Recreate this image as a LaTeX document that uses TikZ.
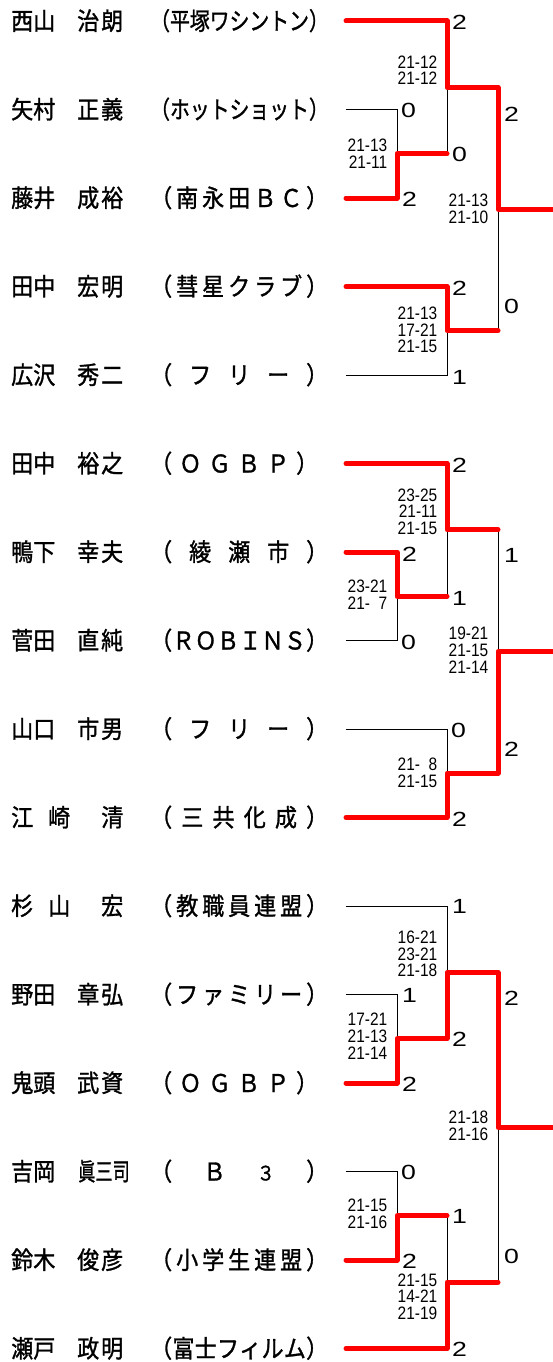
\documentclass[tikz,border=0pt]{standalone}
\usepackage{fontspec}
\usepackage{graphicx}
\newfontfamily\jpfont{Noto Sans CJK JP}[FakeStretch=0.9,FakeBold=1.2]
\newfontfamily\scfont{Liberation Sans}[FakeStretch=0.86]
\newfontfamily\rdfont{Liberation Sans}[FakeStretch=1.3]
\newcommand\tm[2][178pt]{\makebox[#1][s]{#2}}
\newcommand\gv[1]{\makebox[46pt][s]{#1}}
\begin{document}
\begin{tikzpicture}[x=1pt,y=-1pt,
  nm/.style={anchor=base west, inner sep=0pt, font=\jpfont\fontsize{24.5pt}{24.5pt}\selectfont},
  sc/.style={anchor=east, inner sep=0pt, align=right, font=\scfont\fontsize{18pt}{16.8pt}\selectfont},
  rs/.style={anchor=west, inner sep=0pt, font=\rdfont\fontsize{20.5pt}{20.5pt}\selectfont},
  thinln/.style={line width=0.9pt, black},
  winln/.style={line width=5pt, red, line cap=round, line join=round}]
\useasboundingbox (0,0) rectangle (552,1362);
% row ends
\coordinate (r1) at (346,21);
\coordinate (r2) at (346,109.5);
\coordinate (r3) at (346,198);
\coordinate (r4) at (346,286.5);
\coordinate (r5) at (346,375);
\coordinate (r6) at (346,463.5);
\coordinate (r7) at (346,552);
\coordinate (r8) at (346,640.5);
\coordinate (r9) at (346,729);
\coordinate (r10) at (346,817.5);
\coordinate (r11) at (346,906);
\coordinate (r12) at (346,994.5);
\coordinate (r13) at (346,1083);
\coordinate (r14) at (346,1171.5);
\coordinate (r15) at (346,1260);
\coordinate (r16) at (346,1348.5);
% junctions
\coordinate (jA) at (397,153.75); \coordinate (a2) at (447,153.75);
\coordinate (jB) at (447,87.4);   \coordinate (b3) at (498,87.4);
\coordinate (jC) at (447,330.75); \coordinate (c3) at (498,330.75);
\coordinate (jD) at (498,209);    \coordinate (d4) at (556,209);
\coordinate (jE) at (397,596.25); \coordinate (e2) at (447,596.25);
\coordinate (jF) at (447,529.9);  \coordinate (f3) at (498,529.9);
\coordinate (jG) at (447,773.25); \coordinate (g3) at (498,773.25);
\coordinate (jH) at (498,651.6);  \coordinate (h4) at (556,651.6);
\coordinate (jI) at (397,1038.75);\coordinate (i2) at (447,1038.75);
\coordinate (jJ) at (447,972.4);  \coordinate (j3) at (498,972.4);
\coordinate (jK) at (397,1215.75);\coordinate (k2) at (447,1215.75);
\coordinate (jL) at (447,1282.1); \coordinate (l3) at (498,1282.1);
\coordinate (jM) at (498,1127.25);\coordinate (m4) at (556,1127.25);
% thin (losing) lines
\draw[thinln] (r2) -| (jA);
\draw[thinln] (a2) -- (jB);
\draw[thinln] (r5) -| (jC);
\draw[thinln] (c3) -- (jD);
\draw[thinln] (r8) -| (jE);
\draw[thinln] (e2) -- (jF);
\draw[thinln] (f3) -- (jH);
\draw[thinln] (r9) -| (jG);
\draw[thinln] (r11) -| (jJ);
\draw[thinln] (r12) -| (jI);
\draw[thinln] (r14) -| (jK);
\draw[thinln] (k2) -- (jL);
\draw[thinln] (l3) -- (jM);
% red (winning) lines
\draw[winln] (r3) -| (jA) -- (a2);
\draw[winln] (r1) -| (jB) -| (jD) -- (d4);
\draw[winln] (r4) -| (jC) -- (c3);
\draw[winln] (r7) -| (jE) -- (e2);
\draw[winln] (r6) -| (jF) -- (f3);
\draw[winln] (r10) -| (jG) -| (jH) -- (h4);
\draw[winln] (r13) -| (jI) -| (jJ) -| (jM) -- (m4);
\draw[winln] (r15) -| (jK) -- (k2);
\draw[winln] (r16) -| (jL) -- (l3);
% names
\node[nm] (s1) at (11,30) {西山};  \node[nm] (g1) at (77,30) {\gv{治\hfill 朗}};
\node[nm] (t1) at (150,30) {\scalebox{0.9}[1]{（平塚ワシントン）}};
\node[nm] (s2) at (11,118.5) {矢村}; \node[nm] (g2) at (77,118.5) {\gv{正\hfill 義}};
\node[nm] (t2) at (150,118.5) {\scalebox{0.9}[1]{（ホットショット）}};
\node[nm] (s3) at (11,207) {藤井}; \node[nm] (g3) at (77,207) {\gv{成\hfill 裕}};
\node[nm] (t3) at (150,207) {\tm{（\hfill 南\hfill 永\hfill 田\hfill Ｂ\hfill Ｃ\hfill ）}};
\node[nm] (s4) at (11,295.5) {田中}; \node[nm] (g4) at (77,295.5) {\gv{宏\hfill 明}};
\node[nm] (t4) at (150,295.5) {\tm{（\hfill 彗\hfill 星\hfill ク\hfill ラ\hfill ブ\hfill ）}};
\node[nm] (s5) at (11,384) {広沢}; \node[nm] (g5) at (77,384) {\gv{秀\hfill 二}};
\node[nm] (t5) at (150,384) {\tm{（\hfill フ\hfill リ\hfill ー\hfill ）}};
\node[nm] (s6) at (11,472.5) {田中}; \node[nm] (g6) at (77,472.5) {\gv{裕\hfill 之}};
\node[nm] (t6) at (150,472.5) {\tm[168pt]{（\hfill Ｏ\hfill Ｇ\hfill Ｂ\hfill Ｐ\hfill ）}};
\node[nm] (s7) at (11,561) {鴨下}; \node[nm] (g7) at (77,561) {\gv{幸\hfill 夫}};
\node[nm] (t7) at (150,561) {\tm{（\hfill 綾\hfill 瀬\hfill 市\hfill ）}};
\node[nm] (s8) at (11,649.5) {菅田}; \node[nm] (g8) at (77,649.5) {\gv{直\hfill 純}};
\node[nm] (t8) at (150,649.5) {\tm{（\hfill Ｒ\hfill Ｏ\hfill Ｂ\hfill Ｉ\hfill Ｎ\hfill Ｓ\hfill ）}};
\node[nm] (s9) at (11,738) {山口}; \node[nm] (g9) at (77,738) {\gv{市\hfill 男}};
\node[nm] (t9) at (150,738) {\tm{（\hfill フ\hfill リ\hfill ー\hfill ）}};
\node[nm] (s10) at (11,826.5) {江}; \node[nm] (s10b) at (48,826.5) {崎};
\node[nm] (g10) at (101,826.5) {清};
\node[nm] (t10) at (150,826.5) {\tm{（\hfill 三\hfill 共\hfill 化\hfill 成\hfill ）}};
\node[nm] (s11) at (11,915) {杉}; \node[nm] (s11b) at (48,915) {山};
\node[nm] (g11) at (101,915) {宏};
\node[nm] (t11) at (150,915) {\tm{（\hfill 教\hfill 職\hfill 員\hfill 連\hfill 盟\hfill ）}};
\node[nm] (s12) at (11,1003.5) {野田}; \node[nm] (g12) at (77,1003.5) {\gv{章\hfill 弘}};
\node[nm] (t12) at (150,1003.5) {\tm{（\hfill フ\hfill ァ\hfill ミ\hfill リ\hfill ー\hfill ）}};
\node[nm] (s13) at (11,1092) {鬼頭}; \node[nm] (g13) at (77,1092) {\gv{武\hfill 資}};
\node[nm] (t13) at (150,1092) {\tm[168pt]{（\hfill Ｏ\hfill Ｇ\hfill Ｂ\hfill Ｐ\hfill ）}};
\node[nm] (s14) at (11,1180.5) {吉岡}; \node[nm] (g14) at (78,1180.5) {\scalebox{0.78}[1]{眞三司}};
\node[nm] (t14) at (150,1180.5) {\tm{（\hfill Ｂ\hfill {\fontsize{20pt}{20pt}\selectfont ３}\hfill ）}};
\node[nm] (s15) at (11,1269) {鈴木}; \node[nm] (g15) at (77,1269) {\gv{俊\hfill 彦}};
\node[nm] (t15) at (150,1269) {\tm{（\hfill 小\hfill 学\hfill 生\hfill 連\hfill 盟\hfill ）}};
\node[nm] (s16) at (11,1357.5) {瀬戸}; \node[nm] (g16) at (77,1357.5) {\gv{政\hfill 明}};
\node[nm] (t16) at (150,1357.5) {\tm{（\hfill 富\hfill 士\hfill フ\hfill ィ\hfill ル\hfill ム\hfill ）}};
% game scores
\node[sc] (sB) at (437.5,70.3) {21-12\\21-12};
\node[sc] (sA) at (387.5,154) {21-13\\21-11};
\node[sc] (sD) at (488.5,208.7) {21-13\\21-10};
\node[sc] (sC) at (437.5,330) {21-13\\17-21\\21-15};
\node[sc] (sF) at (437.5,511.7) {23-25\\21-11\\21-15};
\node[sc] (sE) at (387.5,595) {23-21\\21- \kern4.3pt7};
\node[sc] (sH) at (488.5,650.5) {19-21\\21-15\\21-14};
\node[sc] (sG) at (437.5,772.7) {21- \kern4.3pt8\\21-15};
\node[sc] (sJ) at (437.5,953.8) {16-21\\23-21\\21-18};
\node[sc] (sI) at (387.5,1036.4) {17-21\\21-13\\21-14};
\node[sc] (sM) at (488.5,1125.4) {21-18\\21-16};
\node[sc] (sK) at (387.5,1213.9) {21-15\\21-16};
\node[sc] (sL) at (437.5,1296.7) {21-15\\14-21\\21-19};
% match scores
\node[rs] (p1) at (452,22) {2};
\node[rs] (p2) at (401,110.5) {0};
\node[rs] (p3) at (402,199.5) {2};
\node[rs] (pA) at (452,154.5) {0};
\node[rs] (pB) at (504,114) {2};
\node[rs] (p4) at (452,288) {2};
\node[rs] (p5) at (452,377) {1};
\node[rs] (pC) at (504,306) {0};
\node[rs] (p6) at (452,465) {2};
\node[rs] (p7) at (402,554) {2};
\node[rs] (p8) at (401,642) {0};
\node[rs] (pE) at (452,598) {1};
\node[rs] (pF) at (504,555) {1};
\node[rs] (p9) at (451,730) {0};
\node[rs] (p10) at (452,819) {2};
\node[rs] (pG) at (504,749) {2};
\node[rs] (p11) at (452,906) {1};
\node[rs] (p12) at (402,995) {1};
\node[rs] (p13) at (402,1084) {2};
\node[rs] (pI) at (452,1039) {2};
\node[rs] (pJ) at (504,998) {2};
\node[rs] (p14) at (401,1172) {0};
\node[rs] (p15) at (402,1261) {2};
\node[rs] (pK) at (452,1216) {1};
\node[rs] (p16) at (452,1349) {2};
\node[rs] (pL) at (504,1256) {0};
\end{tikzpicture}
\end{document}
